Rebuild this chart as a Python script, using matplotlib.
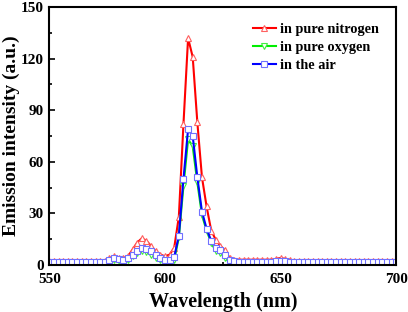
import numpy as np
import matplotlib
matplotlib.use('Agg')
from matplotlib import pyplot
from matplotlib.ticker import MultipleLocator

# wavelength grid (nm), 2 nm step
wavelength = np.arange(550, 701, 2)

# emission intensity
# 550 .. 574
nitrogen = [2.5] * 13 + [
    4, 5, 4, 4, 5, 9, 13, 15.5, 14, 11, 8, 6, 5, 6,          # 576 .. 602
    10, 28, 82, 132, 121, 83, 51, 34, 20, 14.5, 11, 8.5, 4, 3,  # 604 .. 630
    3, 3, 3, 3, 3, 3, 3, 3, 3.5, 4, 3.5, 3,                  # 632 .. 654
] + [2.5] * 23                                               # 656 .. 700

oxygen = [0.5] * 13 + [
    2, 3, 2.5, 2, 3, 5, 7, 8, 7.5, 6, 4, 3, 2, 2,
    3, 16, 46, 73, 69, 48, 29, 20, 13, 8, 7, 4, 1.5, 1,
    0.5, 0.5, 0.5, 0.5, 0.5, 0.5, 0.5, 0.5, 0.8, 1, 0.8, 0.5,
] + [0.5] * 23

air = [1.5] * 13 + [
    3, 4, 3.5, 3, 4, 6, 8, 10, 9, 8, 6, 4, 3, 3,
    4.5, 17, 50, 79, 75, 51, 31, 21, 14, 10, 8.5, 5.5, 3, 2,
    1.5, 1.5, 1.5, 1.5, 1.5, 1.5, 1.5, 1.5, 2, 2.5, 2, 1.5,
] + [1.5] * 23

labels = ['in pure nitrogen', 'in pure oxygen', 'in the air']

pyplot.rcParams['font.family'] = 'Liberation Serif'
pyplot.rcParams['font.weight'] = 'bold'

fig = pyplot.figure(figsize=(4.08, 3.12), dpi=100)
ax = fig.add_axes([0.121, 0.151, 0.850, 0.826])

ax.plot(wavelength, nitrogen, color='#ff0000', lw=1.5, marker='^', ms=4.5,
        mfc='white', mec='#ff6060', mew=0.8, label=labels[0])
ax.plot(wavelength, oxygen, color='#00ee00', lw=1.5, marker='v', ms=4.5,
        mfc='white', mec='#40ee40', mew=0.8, label=labels[1])
ax.plot(wavelength, air, color='#0000ff', lw=1.5, marker='s', ms=4,
        mfc='white', mec='#7070ff', mew=0.8, label=labels[2])

ax.set_xlim(550, 700)
ax.set_ylim(0, 150)
ax.xaxis.set_major_locator(MultipleLocator(50))
ax.xaxis.set_minor_locator(MultipleLocator(25))
ax.yaxis.set_major_locator(MultipleLocator(30))
ax.yaxis.set_minor_locator(MultipleLocator(15))
ax.tick_params(which='both', direction='in', width=1.2)
ax.tick_params(which='major', length=4, labelsize=11)
ax.tick_params(axis='x', which='major', pad=6)
ax.tick_params(axis='y', which='major', pad=4)
ax.tick_params(which='minor', length=2.5)
for lab in ax.get_xticklabels() + ax.get_yticklabels():
    lab.set_fontweight('bold')
for sp in ax.spines.values():
    sp.set_linewidth(1.5)

ax.set_xlabel('Wavelength (nm)', fontsize=14.5, fontweight='bold', labelpad=4)
ax.set_ylabel('Emission intensity (a.u.)', fontsize=14, fontweight='bold', labelpad=0.5)

ax.legend(loc='upper left', bbox_to_anchor=(0.57, 0.962), frameon=False,
          handlelength=1.6, handletextpad=0.3, labelspacing=0.35,
          borderaxespad=0, prop={'size': 10.3, 'weight': 'bold'})

pyplot.savefig('out.png', dpi=100)
pyplot.close()
